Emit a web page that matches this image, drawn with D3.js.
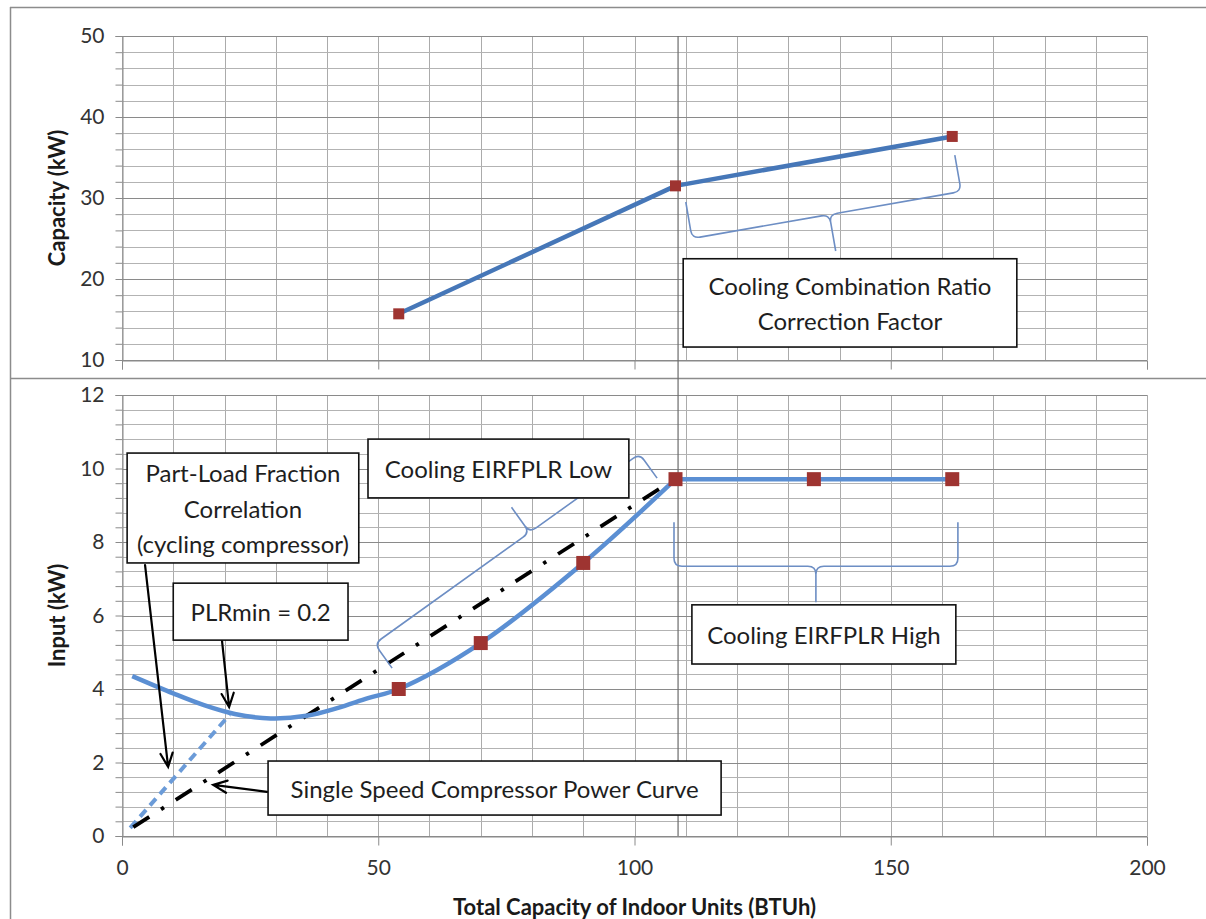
<!DOCTYPE html>
<html><head><meta charset="utf-8">
<script src="https://cdn.jsdelivr.net/npm/d3@7"></script>
<style>
body{margin:0;background:#fff;}
text{font-family: Lato, "Open Sans", sans-serif;}
</style></head><body>
<svg id="c" width="1206" height="919"></svg>
<script>
// ---------- data ----------
const xTicks = [0, 50, 100, 150, 200];
const capTicks = [10, 20, 30, 40, 50];
const inputTicks = [0, 2, 4, 6, 8, 10, 12];

// top panel: capacity
const capX = [54, 108, 162];
const capY = [15.7, 31.5, 37.6];

// bottom panel: EIR markers (low + high)
const eirX = [54, 70, 90, 108, 135, 162];
const eirY = [4.0, 5.25, 7.43, 9.71, 9.71, 9.71];

// part-load fraction correlation (solid curve below 54)
const plfX = [2, 10, 16, 22, 29, 36, 42, 48];
const plfY = [4.35, 3.88, 3.56, 3.32, 3.2, 3.27, 3.48, 3.75];

// cycling compressor (dashed)
const cyclingX = [1.6, 21];
const cyclingY = [0.22, 3.3];

// single speed compressor power curve (dash-dot)
const singleX = [2.2, 106];
const singleY = [0.24, 9.55];

const refLineX = 108.5;

// ---------- annotations (data coordinates) ----------
const boxes = [
  {panel: 'top', x0: 109.5, x1: 174.6, y0: 22.5, y1: 11.6, lines: ["Cooling Combination Ratio", "Correction Factor"]},
  {panel: 'bot', x0: 48.0, x1: 98.9, y0: 10.8, y1: 9.2, lines: ["Cooling EIRFPLR Low"]},
  {panel: 'bot', x0: 111.2, x1: 162.7, y0: 6.29, y1: 4.68, lines: ["Cooling EIRFPLR High"]},
  {panel: 'bot', x0: 1.0, x1: 46.2, y0: 10.42, y1: 7.43, lines: ["Part-Load Fraction", "Correlation", "(cycling compressor)"]},
  {panel: 'bot', x0: 10.0, x1: 44.1, y0: 6.88, y1: 5.33, lines: ["PLRmin = 0.2"]},
  {panel: 'bot', x0: 28.5, x1: 116.9, y0: 2.04, y1: 0.57, lines: ["Single Speed Compressor Power Curve"]}
];
const braces = [
  {panel: 'top', a: [110.0, 29.5], b: [162.5, 35.3], side: 1, h: 37, t: 37, f: 0.51},
  {panel: 'bot', a: [52.7, 4.57], b: [104.4, 9.74], side: -1, h: 30, t: 31, f: 0.585},
  {panel: 'bot', a: [107.7, 8.54], b: [163.1, 8.54], side: 1, h: 44, t: 36, f: 0.5}
];
const arrows = [
  {a: [4.5, 7.37], b: [9.0, 1.88]},
  {a: [19.5, 5.33], b: [20.9, 3.51]},
  {a: [28.3, 1.20], b: [17.8, 1.39]}
];

// ---------- layout ----------
const L = 122, R = 1147;
const topT = 36, topB = 360, botT = 395, botB = 836;

const x = d3.scaleLinear().domain([0, 200]).range([L, R]);
const yTop = d3.scaleLinear().domain([10, 50]).range([topB, topT]);
const yBot = d3.scaleLinear().domain([0, 12]).range([botB, botT]);
const ys = {top: yTop, bot: yBot};

const svg = d3.select('#c');

// outer frame
svg.append('line').attr('x1', 10.5).attr('y1', 7).attr('x2', 10.5).attr('y2', 919).attr('stroke', '#8c8c8c').attr('stroke-width', 1.5);
svg.append('line').attr('x1', 10).attr('y1', 7.5).attr('x2', 1206).attr('y2', 7.5).attr('stroke', '#8c8c8c').attr('stroke-width', 1.5);
svg.append('line').attr('x1', 10).attr('y1', 378.5).attr('x2', 1206).attr('y2', 378.5).attr('stroke', '#8c8c8c').attr('stroke-width', 1.5);

function drawPanel(yScale, minorVals, isMajor, showXLabels) {
  const g = svg.append('g');
  const [y0, y1] = yScale.range();
  g.selectAll('.vg').data(d3.range(0, 21).map(i => i * 10)).enter().append('line')
    .attr('x1', d => Math.round(x(d)) + 0.5).attr('x2', d => Math.round(x(d)) + 0.5)
    .attr('y1', y1).attr('y2', y0).attr('stroke', '#ababab').attr('stroke-width', 1);
  g.selectAll('.hg').data(minorVals).enter().append('line')
    .attr('x1', L).attr('x2', R)
    .attr('y1', d => Math.round(yScale(d)) + 0.5).attr('y2', d => Math.round(yScale(d)) + 0.5)
    .attr('stroke', d => isMajor(d) ? '#8a8a8a' : '#b3b3b3').attr('stroke-width', 1);
  const ax = d3.axisLeft(yScale).tickValues(minorVals).tickSize(7).tickPadding(11)
    .tickFormat(d => isMajor(d) ? d3.format('d')(d) : '');
  const ag = g.append('g').attr('transform', `translate(${L + 0.5},0)`).call(ax);
  ag.select('.domain').attr('stroke', '#8a8a8a');
  ag.selectAll('.tick line').attr('stroke', '#8a8a8a');
  ag.selectAll('text').attr('font-size', 21).attr('fill', '#333').attr('font-family', 'Lato');
  const bx = d3.axisBottom(x).tickValues(xTicks).tickSize(9).tickPadding(15)
    .tickFormat(d => showXLabels ? d : '');
  const bg = g.append('g').attr('transform', `translate(0,${y0 + 0.5})`).call(bx);
  bg.select('.domain').attr('stroke', '#8a8a8a');
  bg.selectAll('.tick line').attr('stroke', '#8a8a8a');
  bg.selectAll('text').attr('font-size', 21).attr('fill', '#333').attr('font-family', 'Lato');
  return g;
}

drawPanel(yTop, d3.range(0, 21).map(i => 10 + 2 * i), d => d % 10 === 0, false);
drawPanel(yBot, d3.range(0, 31).map(i => +(i * 0.4).toFixed(1)), d => Math.abs(d / 2 - Math.round(d / 2)) < 1e-6, true);

// reference vertical line
svg.append('line').attr('x1', x(refLineX)).attr('x2', x(refLineX))
  .attr('y1', yTop(50)).attr('y2', yBot(0)).attr('stroke', '#6b6b6b').attr('stroke-width', 1.2);

// axis titles
svg.append('text').attr('transform', `translate(56,${(topT + topB) / 2}) rotate(-90)`)
  .attr('text-anchor', 'middle').attr('dominant-baseline', 'central')
  .attr('font-size', 22).attr('font-weight', 'bold').attr('fill', '#1a1a1a').text('Capacity (kW)');
svg.append('text').attr('transform', `translate(56,${(botT + botB) / 2}) rotate(-90)`)
  .attr('text-anchor', 'middle').attr('dominant-baseline', 'central')
  .attr('font-size', 22).attr('font-weight', 'bold').attr('fill', '#1a1a1a').text('Input (kW)');
svg.append('text').attr('x', (L + R) / 2).attr('y', 906)
  .attr('text-anchor', 'middle').attr('dominant-baseline', 'central')
  .attr('font-size', 22).attr('font-weight', 'bold').attr('fill', '#1a1a1a').text('Total Capacity of Indoor Units (BTUh)');

// ---------- series ----------
const capData = capX.map((d, i) => [d, capY[i]]);
svg.append('path').datum(capData)
  .attr('d', d3.line().x(d => x(d[0])).y(d => yTop(d[1])))
  .attr('fill', 'none').attr('stroke', '#4677b8').attr('stroke-width', 4.5).attr('stroke-linejoin', 'round');

const cycData = cyclingX.map((d, i) => [d, cyclingY[i]]);
svg.append('path').datum(cycData)
  .attr('d', d3.line().x(d => x(d[0])).y(d => yBot(d[1])))
  .attr('fill', 'none').attr('stroke', '#6b9bd8').attr('stroke-width', 4).attr('stroke-dasharray', '9,6');

const singleData = singleX.map((d, i) => [d, singleY[i]]);
svg.append('path').datum(singleData)
  .attr('d', d3.line().x(d => x(d[0])).y(d => yBot(d[1])))
  .attr('fill', 'none').attr('stroke', '#000').attr('stroke-width', 3.8).attr('stroke-dasharray', '19,14,3.5,14');

const eirData = eirX.map((d, i) => [d, eirY[i]]);
const lowCurve = plfX.map((d, i) => [d, plfY[i]]).concat(eirData.filter(d => d[0] <= 108));
const highLine = eirData.filter(d => d[0] >= 108);
svg.append('path').datum(lowCurve)
  .attr('d', d3.line().x(d => x(d[0])).y(d => yBot(d[1])).curve(d3.curveCatmullRom.alpha(0.5)))
  .attr('fill', 'none').attr('stroke', '#5b8fd3').attr('stroke-width', 4.5).attr('stroke-linejoin', 'round');
svg.append('path').datum(highLine)
  .attr('d', d3.line().x(d => x(d[0])).y(d => yBot(d[1])))
  .attr('fill', 'none').attr('stroke', '#5b8fd3').attr('stroke-width', 4.5);

// markers
svg.selectAll('.mt').data(capData).enter().append('rect')
  .attr('x', d => x(d[0]) - 5.5).attr('y', d => yTop(d[1]) - 5.5).attr('width', 11).attr('height', 11)
  .attr('fill', '#9e3431');
svg.selectAll('.mb').data(eirData).enter().append('rect')
  .attr('x', d => x(d[0]) - 7).attr('y', d => yBot(d[1]) - 7).attr('width', 14).attr('height', 14)
  .attr('fill', '#9e3431');

// ---------- braces ----------
function bracePath(p1, p2, side, h, t, f, r) {
  const dx = p2[0] - p1[0], dy = p2[1] - p1[1], len = Math.hypot(dx, dy);
  const u = [dx / len, dy / len];
  const n = [-u[1] * side, u[0] * side];
  const add = (p, v, k) => [p[0] + v[0] * k, p[1] + v[1] * k];
  const C1 = add(p1, n, h), C2 = add(p2, n, h);
  const M = [C1[0] + (C2[0] - C1[0]) * f, C1[1] + (C2[1] - C1[1]) * f];
  const T = add(M, n, t);
  const s = p => p[0].toFixed(1) + ',' + p[1].toFixed(1);
  return `M${s(p1)} L${s(add(C1, n, -r))} Q${s(C1)} ${s(add(C1, u, r))} L${s(add(M, u, -r))} Q${s(M)} ${s(add(M, n, r))} L${s(T)}` +
    ` M${s(T)} L${s(add(M, n, r))} Q${s(M)} ${s(add(M, u, r))} L${s(add(C2, u, -r))} Q${s(C2)} ${s(add(C2, n, -r))} L${s(p2)}`;
}
braces.forEach(b => {
  const y = ys[b.panel];
  svg.append('path')
    .attr('d', bracePath([x(b.a[0]), y(b.a[1])], [x(b.b[0]), y(b.b[1])], b.side, b.h, b.t, b.f, 8))
    .attr('fill', 'none').attr('stroke', '#6d8ec4').attr('stroke-width', 1.6);
});

// ---------- arrows ----------
arrows.forEach(a => {
  const p1 = [x(a.a[0]), yBot(a.a[1])], p2 = [x(a.b[0]), yBot(a.b[1])];
  const ang = Math.atan2(p2[1] - p1[1], p2[0] - p1[0]);
  const hl = 15, ha = 0.42;
  const w1 = [p2[0] - hl * Math.cos(ang - ha), p2[1] - hl * Math.sin(ang - ha)];
  const w2 = [p2[0] - hl * Math.cos(ang + ha), p2[1] - hl * Math.sin(ang + ha)];
  svg.append('path')
    .attr('d', `M${p1} L${p2} M${w1} L${p2} L${w2}`)
    .attr('fill', 'none').attr('stroke', '#000').attr('stroke-width', 2.2).attr('stroke-linecap', 'round');
});

// ---------- text boxes ----------
boxes.forEach(b => {
  const y = ys[b.panel];
  const X0 = x(b.x0), X1 = x(b.x1), Y0 = y(b.y0), Y1 = y(b.y1);
  svg.append('rect').attr('x', X0).attr('y', Y0).attr('width', X1 - X0).attr('height', Y1 - Y0)
    .attr('fill', '#fff').attr('stroke', '#111').attr('stroke-width', 1.6);
  const cy = (Y0 + Y1) / 2, lh = 35.5, n = b.lines.length;
  b.lines.forEach((t, i) => {
    svg.append('text').attr('x', (X0 + X1) / 2).attr('y', cy + (i - (n - 1) / 2) * lh)
      .attr('text-anchor', 'middle').attr('dominant-baseline', 'central')
      .attr('font-size', 24).attr('fill', '#1e1e1e').text(t);
  });
});
</script>
</body></html>
